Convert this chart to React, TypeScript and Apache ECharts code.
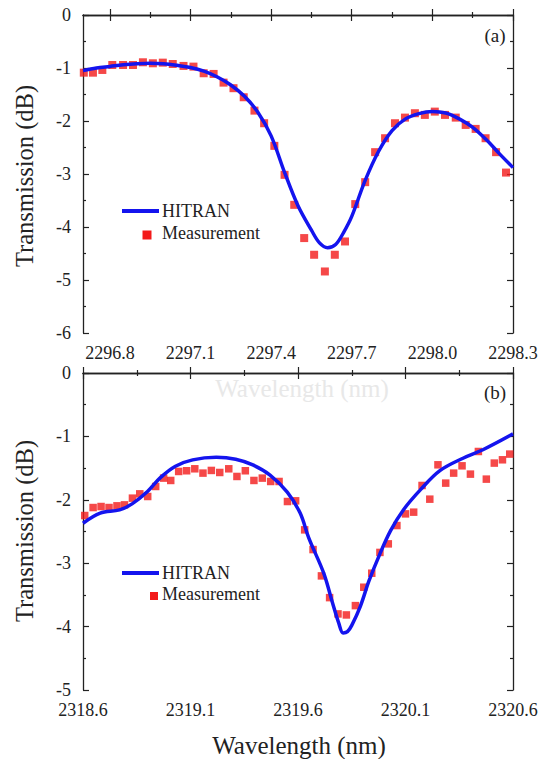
import React, { useEffect, useRef } from "react";
import * as echarts from "echarts";

// ---------- Panel (a) ----------
const aMeasWl = [2296.703, 2296.737, 2296.772, 2296.809, 2296.849, 2296.886, 2296.923, 2296.96, 2296.997, 2297.034, 2297.074, 2297.111, 2297.149, 2297.186, 2297.223, 2297.26, 2297.298, 2297.338, 2297.374, 2297.412, 2297.45, 2297.486, 2297.523, 2297.56, 2297.6, 2297.637, 2297.675, 2297.713, 2297.75, 2297.787, 2297.824, 2297.861, 2297.898, 2297.935, 2297.972, 2298.009, 2298.047, 2298.087, 2298.124, 2298.161, 2298.198, 2298.237, 2298.274];
const aMeasDb = [-1.088, -1.088, -1.037, -0.943, -0.943, -0.943, -0.892, -0.911, -0.899, -0.924, -0.961, -0.974, -1.099, -1.112, -1.276, -1.381, -1.552, -1.804, -2.042, -2.469, -3.016, -3.582, -4.209, -4.524, -4.839, -4.524, -4.273, -3.568, -3.154, -2.588, -2.325, -2.042, -1.936, -1.853, -1.885, -1.823, -1.885, -1.936, -2.074, -2.149, -2.325, -2.588, -2.973];
const aHitWl = [2296.7, 2296.75, 2296.8, 2296.85, 2296.9, 2296.95, 2297.0, 2297.05, 2297.1, 2297.15, 2297.2, 2297.25, 2297.3, 2297.35, 2297.4, 2297.45, 2297.5, 2297.55, 2297.58, 2297.61, 2297.64, 2297.67, 2297.7, 2297.75, 2297.8, 2297.85, 2297.9, 2297.95, 2298.0, 2298.05, 2298.1, 2298.15, 2298.2, 2298.25, 2298.3];
const aHitDb = [-1.05, -1.0, -0.97, -0.94, -0.92, -0.91, -0.92, -0.95, -0.99, -1.06, -1.17, -1.32, -1.53, -1.83, -2.28, -2.97, -3.6, -4.06, -4.3, -4.39, -4.33, -4.1, -3.8, -3.12, -2.57, -2.18, -1.96, -1.86, -1.82, -1.85, -1.96, -2.12, -2.35, -2.62, -2.88];
const aTicks = [2296.8, 2297.1, 2297.4, 2297.7, 2298.0, 2298.3];
const aMinor = [2296.95, 2297.25, 2297.55, 2297.85, 2298.15];

// ---------- Panel (b) ----------
const bMeasWl = [2318.608, 2318.647, 2318.684, 2318.721, 2318.758, 2318.793, 2318.83, 2318.864, 2318.901, 2318.938, 2318.975, 2319.008, 2319.045, 2319.082, 2319.12, 2319.158, 2319.197, 2319.236, 2319.278, 2319.316, 2319.355, 2319.395, 2319.434, 2319.473, 2319.512, 2319.551, 2319.589, 2319.631, 2319.67, 2319.709, 2319.747, 2319.786, 2319.825, 2319.867, 2319.906, 2319.943, 2319.981, 2320.02, 2320.06, 2320.1, 2320.138, 2320.177, 2320.213, 2320.251, 2320.287, 2320.324, 2320.363, 2320.402, 2320.439, 2320.476, 2320.513, 2320.551, 2320.585];
const bMeasDb = [-2.248, -2.122, -2.106, -2.122, -2.095, -2.08, -1.974, -1.906, -1.948, -1.79, -1.658, -1.695, -1.553, -1.542, -1.511, -1.579, -1.537, -1.569, -1.511, -1.632, -1.542, -1.695, -1.658, -1.711, -1.711, -2.027, -2.016, -2.474, -2.785, -3.2, -3.543, -3.8, -3.816, -3.669, -3.379, -3.158, -2.83, -2.695, -2.406, -2.222, -2.195, -1.774, -1.99, -1.448, -1.737, -1.579, -1.464, -1.595, -1.238, -1.674, -1.421, -1.369, -1.279];
const bHitWl = [2318.6, 2318.68, 2318.77, 2318.83, 2318.9, 2318.96, 2319.03, 2319.11, 2319.22, 2319.31, 2319.39, 2319.47, 2319.55, 2319.61, 2319.65, 2319.72, 2319.76, 2319.79, 2319.81, 2319.83, 2319.85, 2319.89, 2319.93, 2319.98, 2320.03, 2320.09, 2320.17, 2320.26, 2320.37, 2320.46, 2320.6];
const bHitDb = [-2.37, -2.21, -2.16, -2.06, -1.87, -1.65, -1.47, -1.37, -1.33, -1.36, -1.45, -1.61, -1.88, -2.21, -2.6, -3.16, -3.62, -3.95, -4.1, -4.08, -3.98, -3.68, -3.28, -2.86, -2.49, -2.16, -1.84, -1.54, -1.34, -1.21, -0.96];
const bTicks = [2318.6, 2319.1, 2319.6, 2320.1, 2320.6];
const bMinor = [2318.85, 2319.35, 2319.85, 2320.35];

const zip = (xs: number[], ys: number[]) => xs.map((x, i) => [x, ys[i]]);

const FONT = "Times New Roman, Liberation Serif, serif";
const AX = "#222";
const BLUE = "#1414ee";
const RED = "#f31a1a";

function xAxes(grid: number, min: number, max: number, ticks: number[], minor: number[]) {
  const base = {
    type: "value", gridIndex: grid, min, max, splitLine: { show: false },
  };
  return [
    {
      ...base, position: "bottom",
      axisLine: { show: true, lineStyle: { color: AX, width: 1.3 } },
      axisTick: { show: true, inside: true, length: 6, customValues: ticks, lineStyle: { color: AX, width: 1.2 } },
      axisLabel: { show: true, customValues: ticks, formatter: (v: number) => v.toFixed(1), fontSize: 18, fontFamily: FONT, color: AX, margin: 11 },
    },
    {
      ...base, position: "bottom",
      axisLine: { show: false },
      axisTick: { show: true, inside: true, length: 3, customValues: minor, lineStyle: { color: AX, width: 1.2 } },
      axisLabel: { show: false },
    },
    {
      ...base, position: "top",
      axisLine: { show: true, lineStyle: { color: AX, width: 1.3 } },
      axisTick: { show: true, inside: true, length: 6, customValues: ticks, lineStyle: { color: AX, width: 1.2 } },
      axisLabel: { show: false },
    },
    {
      ...base, position: "top",
      axisLine: { show: false },
      axisTick: { show: true, inside: true, length: 3, customValues: minor, lineStyle: { color: AX, width: 1.2 } },
      axisLabel: { show: false },
    },
  ];
}

function yAxes(grid: number, min: number) {
  const base = {
    type: "value", gridIndex: grid, min, max: 0, interval: 1, splitLine: { show: false },
    axisLine: { show: true, lineStyle: { color: AX, width: 1.3 } },
    axisTick: { show: true, inside: true, length: 6, lineStyle: { color: AX, width: 1.2 } },
    minorTick: { show: true, splitNumber: 2, length: 3, lineStyle: { color: AX, width: 1.2 } },
  };
  return [
    { ...base, position: "left", axisLabel: { show: true, fontSize: 18, fontFamily: FONT, color: AX, margin: 12 } },
    { ...base, position: "right", axisLabel: { show: false } },
  ];
}

function txt(text: string, x: number, y: number, size: number, extra: any = {}) {
  return {
    type: "text", x, y, ...extra,
    style: { text, fontSize: size, fontFamily: FONT, fill: AX, textAlign: "center", textVerticalAlign: "middle", ...(extra.style || {}) },
  };
}

function legend(y1: number, y2: number, sqX: number, sqSize: number) {
  return [
    { type: "line", shape: { x1: 122, y1, x2: 159, y2: y1 }, style: { stroke: BLUE, lineWidth: 4 } },
    { type: "text", x: 162, y: y1, style: { text: "HITRAN", fontSize: 18, fontFamily: FONT, fill: AX, textVerticalAlign: "middle" } },
    { type: "rect", shape: { x: sqX - sqSize / 2, y: y2 - sqSize / 2, width: sqSize, height: sqSize }, style: { fill: RED } },
    { type: "text", x: 162, y: y2 - 2, style: { text: "Measurement", fontSize: 18, fontFamily: FONT, fill: AX, textVerticalAlign: "middle" } },
  ];
}

export default function App() {
  const ref = useRef<HTMLDivElement>(null);
  useEffect(() => {
    if (!ref.current) return;
    const chart = echarts.init(ref.current, null, { renderer: "svg" });
    chart.setOption({
      animation: false,
      backgroundColor: "#fff",
      textStyle: { fontFamily: FONT },
      grid: [
        { left: 83, top: 15, width: 430, height: 318 },
        { left: 83, top: 373, width: 430, height: 317 },
      ],
      xAxis: [
        ...xAxes(0, 2296.7, 2298.3, aTicks, aMinor),
        ...xAxes(1, 2318.6, 2320.6, bTicks, bMinor),
      ],
      yAxis: [...yAxes(0, -6), ...yAxes(1, -5)],
      series: [
        {
          name: "HITRAN", type: "line", xAxisIndex: 0, yAxisIndex: 0,
          data: zip(aHitWl, aHitDb), smooth: 0.35, showSymbol: false,
          lineStyle: { color: BLUE, width: 3.5 }, itemStyle: { color: BLUE },
        },
        {
          name: "Measurement", type: "scatter", xAxisIndex: 0, yAxisIndex: 0,
          data: zip(aMeasWl, aMeasDb), symbol: "rect", symbolSize: 8, itemStyle: { color: RED },
        },
        {
          name: "HITRAN", type: "line", xAxisIndex: 4, yAxisIndex: 2,
          data: zip(bHitWl, bHitDb), smooth: 0.35, showSymbol: false,
          lineStyle: { color: BLUE, width: 3.5 }, itemStyle: { color: BLUE },
        },
        {
          name: "Measurement", type: "scatter", xAxisIndex: 4, yAxisIndex: 2,
          data: zip(bMeasWl, bMeasDb), symbol: "rect", symbolSize: 7.5, itemStyle: { color: RED },
        },
      ],
      graphic: [
        txt("Transmission (dB)", 24, 176, 24.5, { rotation: Math.PI / 2 }),
        txt("Transmission (dB)", 24, 531, 24.5, { rotation: Math.PI / 2 }),
        txt("Wavelength (nm)", 299, 745, 25),
        txt("Wavelength (nm)", 302, 388, 25, { z: -1, style: { fill: "#e8e8e8" } }),
        txt("(a)", 495, 35, 19),
        txt("(b)", 495, 392, 19),
        ...legend(211, 235, 147, 9),
        ...legend(573, 596, 154, 8),
      ],
    });
    return () => chart.dispose();
  }, []);
  return (
    <div
      ref={ref}
      style={{ position: "fixed", left: 0, top: 0, width: 542, height: 759, background: "#fff" }}
    />
  );
}
